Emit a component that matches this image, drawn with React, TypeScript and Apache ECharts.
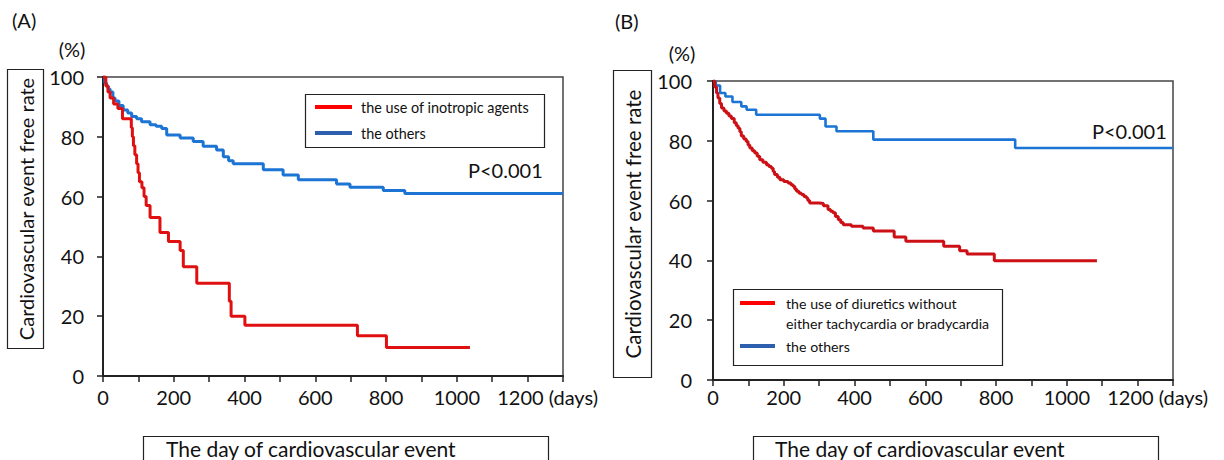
import React, { useEffect, useRef } from "react";
import * as echarts from "echarts";

// ---- data (days, event-free rate %) ----
const xTickStep = 100;
const xMax = 1300;
const yTicks = [0, 20, 40, 60, 80, 100];

const namesA = ["the use of inotropic agents", "the others"];
const namesB = ["the use of diuretics without\neither tachycardia or bradycardia", "the others"];

const redA: number[][] = [
  [0, 100], [8, 97], [14, 95], [20, 93], [30, 91], [42, 89.5], [55, 86], [80, 83],
  [83, 80], [86, 77], [90, 74], [95, 71], [99, 68], [103, 65], [110, 63], [116, 60],
  [122, 57], [133, 53], [161, 48], [185, 45], [218, 42], [227, 36.5], [265, 31],
  [357, 25], [362, 20], [401, 17], [719, 13.5], [801, 9.5], [1037, 9.5],
];
const blueA: number[][] = [
  [0, 100], [5, 98], [10, 97], [15, 96], [20, 95], [28, 93], [34, 92], [45, 90.5],
  [57, 89], [70, 88], [81, 86.8], [95, 86], [109, 85], [133, 84], [150, 83.5],
  [166, 82.8], [180, 80.6], [218, 79.6], [255, 78.4], [283, 76.8], [321, 75.6],
  [340, 73.3], [355, 72], [368, 71], [453, 69], [509, 67.2], [552, 65.6], [660, 64.2],
  [698, 63.1], [792, 62], [853, 61], [1300, 61],
];
const redB: number[][] = [
  [0, 100], [5, 98], [10, 96], [14, 94.3], [19, 92.5], [24, 91], [31, 90], [38, 89.2],
  [45, 88.3], [52, 87.5], [60, 86], [66, 85], [71, 84.2], [76, 83], [80, 81.6],
  [87, 80.6], [94, 79.8], [99, 78.6], [104, 77.6], [111, 76.7], [118, 75.9],
  [125, 74.8], [132, 73.7], [141, 72.8], [151, 72], [158, 71.4], [165, 70.8],
  [170, 69.7], [174, 68.7], [182, 67.8], [189, 67], [200, 66.4], [212, 65.9],
  [220, 65.3], [226, 64.8], [231, 63.9], [236, 63.1], [243, 62.5], [250, 62],
  [257, 61.4], [264, 60.9], [268, 60], [273, 59.2], [300, 59], [312, 58.3],
  [325, 57], [332, 56.4], [339, 55.9], [346, 54.7], [354, 53.6], [361, 52.7],
  [368, 51.9], [391, 51.4], [424, 50.8], [453, 49.8], [512, 47.8], [545, 46.4],
  [652, 44.7], [697, 43.2], [718, 42.1], [795, 39.9], [1085, 39.9],
];
const blueB: number[][] = [
  [0, 100], [8, 98.5], [20, 96], [35, 94.8], [55, 93], [80, 91.5], [95, 90.4],
  [122, 88.7], [302, 87.4], [318, 84.8], [349, 83.2], [453, 80.4], [854, 77.6],
  [1300, 77.6],
];

const FONT = "Lato";
const INK = "#111";
const RED_A = "#e01010";
const RED_B = "#cc1016";
const BLUE = "#1c74d4";
const LEGEND_BLUE = "#2d5fae";
const LEGEND_RED = "#ff0000";
const TICK_FS = 20;

function xAxisCfg(gridIndex: number, margin: number) {
  return {
    type: "value",
    gridIndex,
    min: 0,
    max: xMax,
    interval: xTickStep,
    axisLine: { show: true, onZero: false, lineStyle: { color: "#222", width: 2 } },
    axisTick: { show: true, length: 6, lineStyle: { color: "#222", width: 1.5 } },
    splitLine: { show: false },
    axisLabel: {
      margin,
      fontSize: TICK_FS,
      fontFamily: FONT,
      color: INK,
      showMaxLabel: true,
      formatter: (v: number) =>
        v % 200 !== 0 ? "" : v === 1200 ? "{d|1200 (days)}" : String(v),
      rich: {
        d: { fontSize: TICK_FS, fontFamily: FONT, color: INK, padding: [0, 0, 0, 40] },
      },
    },
  };
}

function yAxisCfg(gridIndex: number, margin: number) {
  return {
    type: "value",
    gridIndex,
    min: yTicks[0],
    max: yTicks[yTicks.length - 1],
    interval: yTicks[1] - yTicks[0],
    axisLine: { show: true, onZero: false, lineStyle: { color: "#222", width: 2 } },
    axisTick: { show: true, length: 6, lineStyle: { color: "#222", width: 1.5 } },
    splitLine: { show: false },
    axisLabel: { margin, fontSize: TICK_FS, fontFamily: FONT, color: INK },
  };
}

function line(name: string, data: number[][], idx: number, color: string, width: number) {
  return {
    type: "line",
    name,
    data,
    xAxisIndex: idx,
    yAxisIndex: idx,
    step: "end",
    showSymbol: false,
    symbol: "none",
    lineStyle: { color, width },
    itemStyle: { color },
    z: 3,
  };
}

export default function App() {
  const ref = useRef<HTMLDivElement>(null);
  useEffect(() => {
    if (!ref.current) return;
    const chart = echarts.init(ref.current, undefined, { renderer: "svg" });
    const txt = (x: number, y: number, text: string, size: number, extra: any = {}) => ({
      type: "text",
      x,
      y,
      style: {
        text,
        fontSize: size,
        fontFamily: FONT,
        fill: INK,
        align: "left",
        verticalAlign: "middle",
        ...(extra.style || {}),
      },
      ...(extra.el || {}),
    });
    const box = (x: number, y: number, w: number, h: number) => ({
      type: "rect",
      shape: { x, y, width: w, height: h },
      style: { fill: "none", stroke: "#222", lineWidth: 1.2 },
      z: 10,
    });
    chart.setOption({
      animation: false,
      backgroundColor: "#fff",
      grid: [
        { left: 103, top: 77, width: 460, height: 299, show: true, borderColor: "#444", borderWidth: 1.5 },
        { left: 713, top: 81, width: 460, height: 299, show: true, borderColor: "#444", borderWidth: 1.5 },
      ],
      xAxis: [xAxisCfg(0, 11), xAxisCfg(1, 7)],
      yAxis: [yAxisCfg(0, 19), yAxisCfg(1, 21)],
      legend: [
        {
          orient: "vertical",
          left: 315,
          top: 99,
          padding: 0,
          itemWidth: 37,
          itemHeight: 4,
          itemGap: 10,
          icon: "rect",
          selectedMode: false,
          textStyle: { fontSize: 14.4, fontFamily: FONT, color: INK, lineHeight: 16, padding: [0, 0, 0, 4] },
          data: [
            { name: namesA[0], itemStyle: { color: LEGEND_RED } },
            { name: namesA[1], itemStyle: { color: LEGEND_BLUE } },
          ],
        },
        {
          orient: "vertical",
          left: 740,
          top: 273,
          padding: 0,
          itemWidth: 35,
          itemHeight: 4,
          itemGap: 3,
          icon: "rect",
          selectedMode: false,
          formatter: (name: string) => (name === namesB[0] ? "\n" + name : name),
          textStyle: { fontSize: 14.2, fontFamily: FONT, color: INK, lineHeight: 20, padding: [0, 0, 0, 6] },
          data: [
            { name: namesB[0], itemStyle: { color: LEGEND_RED } },
            { name: namesB[1], itemStyle: { color: LEGEND_BLUE } },
          ],
        },
      ],
      series: [
        line(namesA[1], blueA, 0, BLUE, 3),
        line(namesA[0], redA, 0, RED_A, 3),
        line(namesB[1], blueB, 1, BLUE, 2.6),
        line(namesB[0], redB, 1, RED_B, 3),
      ],
      graphic: [
        txt(12, 20, "(A)", 20),
        txt(615, 21, "(B)", 20),
        txt(72, 49, "(%)", 20, { style: { align: "center" } }),
        txt(682, 53, "(%)", 20, { style: { align: "center" } }),
        box(7.5, 69.5, 36, 279),
        txt(25.5, 209, "Cardiovascular event free rate", 20, {
          style: { align: "center" },
          el: { rotation: Math.PI / 2 },
        }),
        box(613.5, 70.5, 38, 307),
        txt(632.5, 224, "Cardiovascular event free rate", 20.5, {
          style: { align: "center" },
          el: { rotation: Math.PI / 2 },
        }),
        box(143.5, 436.5, 405, 40),
        txt(166, 448, "The day of cardiovascular event", 21),
        box(753.5, 436.5, 405, 40),
        txt(775, 448, "The day of cardiovascular event", 21),
        box(305.5, 94.5, 239, 53),
        box(733.5, 289.5, 269, 76),
        txt(468, 170, "P<0.001", 20),
        txt(1092, 131, "P<0.001", 20),
      ],
    });
    return () => chart.dispose();
  }, []);
  return (
    <div
      ref={ref}
      style={{ position: "absolute", left: 0, top: 0, width: 1224, height: 460, background: "#fff" }}
    />
  );
}
